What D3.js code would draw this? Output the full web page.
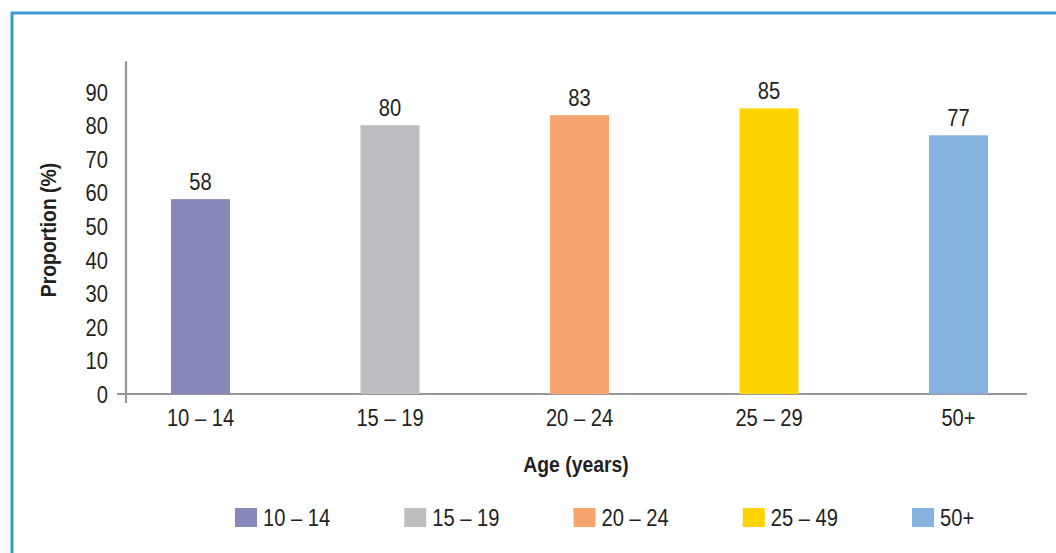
<!DOCTYPE html>
<html>
<head>
<meta charset="utf-8">
<script src="https://cdn.jsdelivr.net/npm/d3@7"></script>
<style>
  html, body { margin: 0; padding: 0; background: #fff; }
  svg { display: block; }
  text { font-family: "Liberation Sans", Arial, sans-serif; fill: #231f20; }
</style>
</head>
<body>
<svg id="chart" width="1056" height="553"></svg>
<script>
const categories = ["10 – 14", "15 – 19", "20 – 24", "25 – 29", "50+"];
const values = [58, 80, 83, 85, 77];
const legendLabels = ["10 – 14", "15 – 19", "20 – 24", "25 – 49", "50+"];
const colors = ["#8887ba", "#bdbec1", "#f8a46e", "#fed500", "#85b2de"];
const yTicks = [0, 10, 20, 30, 40, 50, 60, 70, 80, 90];
const yTitle = "Proportion (%)";
const xTitle = "Age (years)";

const svg = d3.select("#chart");
const fs = 23;      // font size
const sx = 0.875;   // horizontal condensing to mimic a narrow face

// frame
svg.append("rect").attr("x", 12).attr("y", 13).attr("width", 1100).attr("height", 600)
  .attr("fill", "none").attr("stroke", "#3f97d3").attr("stroke-width", 3);

const y = d3.scaleLinear().domain([0, 100]).range([394, 58]);
const x = d3.scaleBand().domain(categories).range([105.75, 1053.25]).paddingInner(0.689).paddingOuter(0.3445);

const axisColor = "#97979b";

svg.append("line").attr("x1", 126).attr("x2", 126).attr("y1", y(99)).attr("y2", y(0) + 9)
  .attr("stroke", axisColor).attr("stroke-width", 2.2);
svg.append("line").attr("x1", 117).attr("x2", 1027).attr("y1", y(0)).attr("y2", y(0))
  .attr("stroke", axisColor).attr("stroke-width", 2.2);

function place(sel, fx, fy) {
  return sel.attr("transform", (d, i) => `translate(${fx(d, i)},${fy(d, i)}) scale(${sx},1)`);
}

// y tick labels
place(svg.append("g").selectAll("text").data(yTicks).join("text"), () => 108, d => y(d) + 1)
  .attr("text-anchor", "end").attr("dominant-baseline", "central")
  .attr("font-size", fs).text(d => d);

// bars
svg.append("g").selectAll("rect").data(values).join("rect")
  .attr("x", (d, i) => x(categories[i])).attr("width", x.bandwidth())
  .attr("y", d => y(d)).attr("height", d => y(0) - y(d))
  .attr("fill", (d, i) => colors[i]);

// value labels
place(svg.append("g").selectAll("text").data(values).join("text"),
      (d, i) => x(categories[i]) + x.bandwidth() / 2, d => y(d) - 9)
  .attr("text-anchor", "middle").attr("font-size", fs).text(d => d);

// x tick labels
place(svg.append("g").selectAll("text").data(categories).join("text"),
      d => x(d) + x.bandwidth() / 2, () => 426)
  .attr("text-anchor", "middle").attr("font-size", fs).text(d => d);

// axis titles
svg.append("text").attr("transform", `translate(576,472) scale(0.88,1)`).attr("text-anchor", "middle")
  .attr("font-size", 22).attr("font-weight", "bold").text(xTitle);
svg.append("text").attr("transform", "translate(56,230) rotate(-90) scale(0.88,1)").attr("text-anchor", "middle")
  .attr("font-size", 22).attr("font-weight", "bold").text(yTitle);

// legend
const lx = d3.scalePoint().domain(legendLabels).range([235, 912]);
const lg = svg.append("g").selectAll("g").data(legendLabels).join("g")
  .attr("transform", d => `translate(${lx(d)},508)`);
lg.append("rect").attr("width", 22).attr("height", 19).attr("fill", (d, i) => colors[i]);
lg.append("text").attr("transform", `translate(28,10) scale(${sx},1)`).attr("dominant-baseline", "central")
  .attr("font-size", fs).text(d => d);
</script>
</body>
</html>
